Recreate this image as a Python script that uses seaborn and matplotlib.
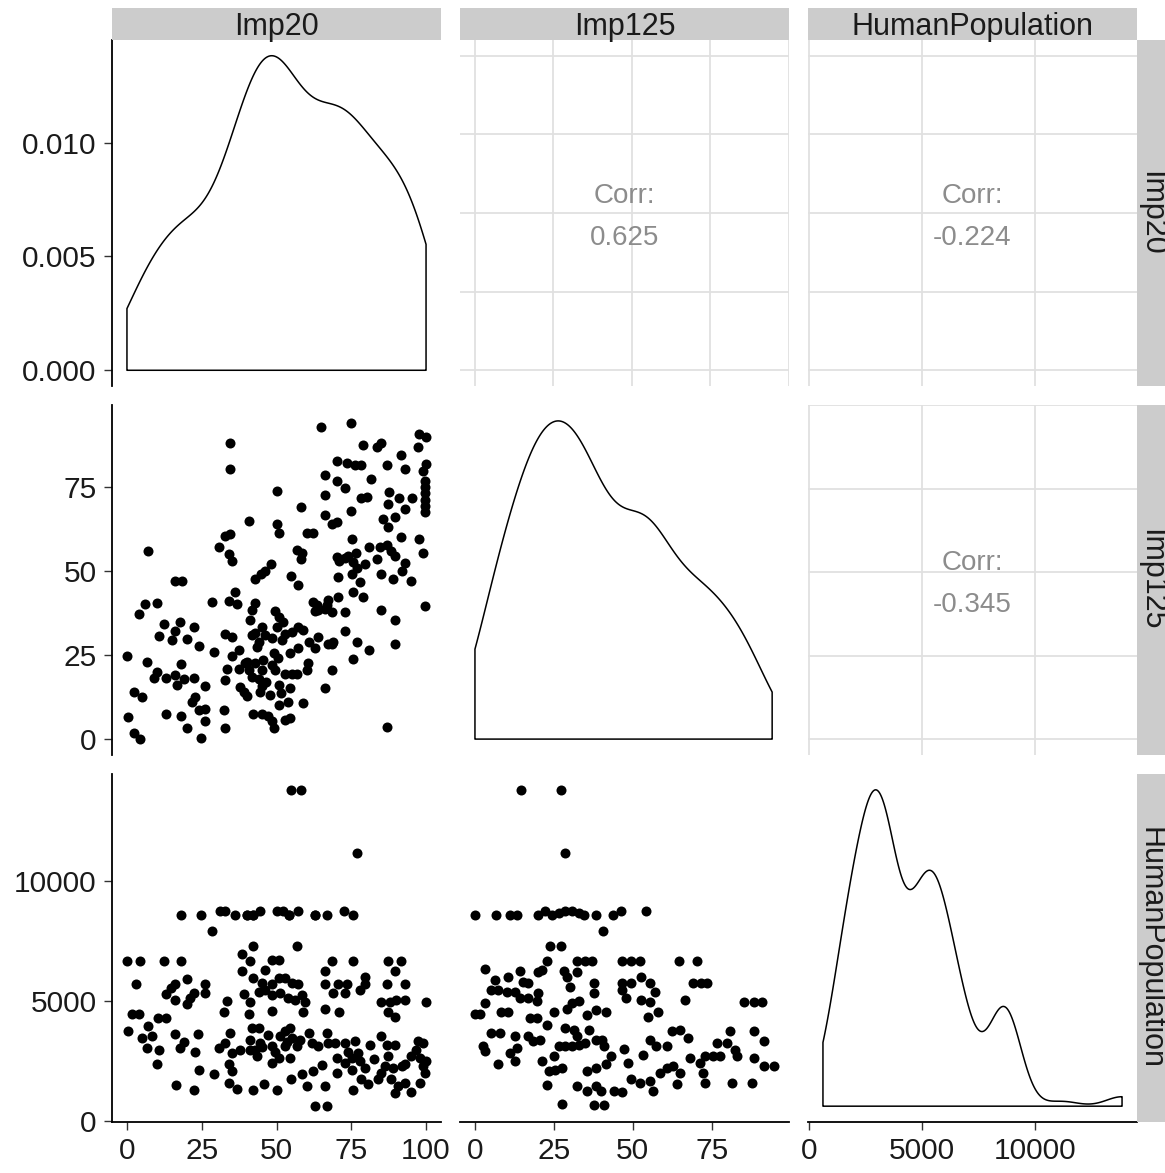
import numpy as np
import matplotlib
matplotlib.use("Agg")
import matplotlib.pyplot as plt
import seaborn as sns

# Imp20 vs Imp125
imp20_a = [7.1, 34.3, 34.3, 64.9, 74.9, 97.6, 100, 97.3, 78.8, 83.5, 85.1, 91.6, 70.1, 73.5, 76.2,
           78.1, 86.8, 92.9, 99.9, 99.0, 66.2, 70.1, 72.9, 81.6, 99.6, 50.3, 66.2, 87.6, 78.4, 80.1,
           91.0, 95.3, 99.6, 99.6, 99.6, 87.3, 92.9, 74.8, 58.2, 66.2, 85.7, 89.6, 87.3, 68.4, 70.1,
           40.9, 50.1, 50.9, 32.9, 34.6, 30.9, 34.2, 35.1, 60.1, 62.3, 75.1, 91.6, 97.6, 99.0, 56.8,
           58.4, 58.2, 80.9, 84.6, 87.1, 88.4, 89.6, 70.1, 72.9, 76.5, 75.7, 79.6, 83.5, 92.9, 91.8,
           48.1, 46.2, 44.9, 42.9, 54.8, 70.7, 75.1, 84.9, 95.1, 16.2, 18.4, 89.0, 57.1, 77.9, 99.6,
           99.6, 36.2, 34.0, 36.8, 42.9, 41.8, 41.2, 28.4, 6.2, 10.1, 4.0, 62.3, 64.0, 67.3, 66.2,
           70.7, 68.4, 72.9, 63.5, 75.7, 79.0, 84.9, 89.6, 99.6, 12.3, 17.9, 22.3, 16.2, 10.7, 14.9,
           20.1, 24.0, 29.0, 32.9, 35.1, 37.3, 35.1, 50.7, 52.3, 50.1, 45.1, 42.9, 46.2, 44.0, 41.8,
           43.4, 40.1, 42.9, 45.1, 48.4, 51.8, 52.9, 55.1, 57.3, 59.0, 49.0, 54.6, 57.3, 60.7, 62.9,
           64.0, 67.3, 68.4, 72.9, 76.8, 80.9, 89.6, 75.7, 0.0, 6.8, 18.2, 10.1, 9.0, 12.9, 16.2,
           16.8, 19.0, 22.3, 26.2, 32.9, 33.4, 37.3, 39.6, 40.7, 41.8, 44.0, 37.9, 40.1, 39.0, 44.6,
           45.1, 47.9, 50.7, 51.6, 54.6, 54.0, 49.6, 52.9, 55.1, 56.8, 60.1, 60.4, 68.4, 66.2, 59.0,
           2.3, 4.9, 22.9, 21.8, 24.0, 26.2, 26.2, 32.3, 32.9, 12.9, 18.2, 20.1, 24.9, 0.3, 2.3,
           4.2, 42.3, 45.1, 47.3, 48.4, 49.0, 52.9, 54.6, 86.8,
           45.5, 48.5, 50.5, 46.5, 49.5, 51.0, 63.0, 67.0, 71.0, 74.0, 77.0, 69.0]
imp125_a = [56.1, 88.0, 80.3, 92.9, 94.1, 90.7, 89.9, 87.0, 87.5, 86.9, 88.2, 84.6, 82.8, 82.3, 81.6,
            81.6, 81.6, 80.3, 81.8, 79.8, 78.6, 76.9, 74.7, 77.3, 76.9, 73.9, 72.6, 73.4, 71.7, 72.0,
            71.7, 71.8, 73.3, 71.3, 69.3, 69.9, 68.5, 68.0, 69.1, 66.8, 65.5, 66.0, 63.0, 64.0, 64.5,
            65.0, 64.0, 61.2, 60.5, 61.0, 57.3, 55.1, 52.9, 61.2, 61.2, 59.7, 60.2, 59.7, 55.4, 56.3,
            55.3, 53.6, 57.3, 57.1, 57.8, 56.1, 54.6, 54.3, 53.9, 55.3, 52.6, 52.1, 53.6, 52.3, 50.1,
            52.1, 50.1, 49.0, 47.7, 48.4, 48.3, 49.0, 49.1, 47.2, 47.2, 47.2, 47.7, 46.0, 46.7, 75.0,
            67.5, 43.7, 41.2, 40.3, 40.6, 38.3, 35.3, 40.7, 40.1, 40.6, 37.1, 40.7, 38.3, 41.3, 38.8,
            42.2, 37.7, 37.7, 39.8, 43.7, 42.4, 38.3, 35.3, 39.5, 34.3, 34.8, 33.5, 32.3, 30.6, 29.4,
            29.9, 27.6, 26.0, 31.2, 30.5, 26.4, 24.7, 36.3, 34.8, 33.5, 33.5, 31.5, 30.9, 28.9, 30.9,
            27.3, 23.0, 22.5, 20.6, 30.2, 29.4, 31.3, 31.8, 33.5, 32.5, 25.5, 25.5, 27.0, 28.9, 27.0,
            30.3, 28.2, 28.2, 32.3, 28.9, 26.4, 28.2, 23.9, 24.6, 23.0, 22.3, 20.0, 18.3, 18.3, 19.0,
            16.1, 18.0, 18.3, 15.7, 17.5, 20.9, 20.9, 22.6, 20.5, 18.5, 18.0, 15.5, 12.7, 14.0, 13.9,
            15.9, 13.0, 16.0, 13.6, 15.1, 11.1, 20.5, 19.5, 19.3, 19.3, 20.7, 22.6, 20.5, 15.1, 10.8,
            14.0, 12.5, 12.5, 11.0, 8.6, 9.1, 5.4, 8.6, 3.2, 7.4, 6.8, 3.2, 0.2, 6.6, 1.9,
            0.0, 7.6, 7.6, 6.8, 5.3, 3.3, 5.8, 6.3, 3.6,
            23.5, 22.0, 24.0, 17.0, 38.0, 10.0, 38.0, 40.0, 53.0, 54.5, 51.0, 29.0]

# Imp20 vs HumanPopulation
imp20_b = [54.9, 58.2, 76.8, 18.2, 24.9, 28.4, 31.2, 32.9, 36.2, 40.1, 42.3, 44.6, 50.1, 52.3, 54.2,
           57.1, 62.9, 66.8, 72.7, 75.7, 42.0, 57.0, 0.0, 4.2, 12.3, 18.2, 38.4, 41.2, 48.4, 50.7,
           46.2, 38.4, 68.4, 75.7, 66.2, 87.3, 91.6, 89.6, 3.1, 20.1, 16.2, 14.6, 12.9, 16.2, 22.3,
           21.2, 20.1, 26.2, 26.2, 42.3, 45.1, 46.2, 48.4, 50.7, 52.9, 55.1, 57.3, 44.0, 48.4, 51.2,
           54.0, 56.2, 58.4, 59.6, 39.0, 41.2, 33.4, 32.3, 40.7, 48.4, 59.0, 66.2, 70.7, 73.5, 79.6,
           79.6, 69.0, 72.9, 77.9, 66.2, 70.9, 86.8, 92.9, 85.1, 87.9, 90.1, 92.9, 87.3, 89.6, 99.9,
           0.3, 1.8, 4.0, 7.1, 4.9, 8.4, 6.8, 10.7, 10.1, 10.4, 12.9, 16.2, 19.0, 17.9, 22.9,
           23.8, 24.0, 16.4, 22.3, 29.0, 30.7, 32.9, 34.6, 35.1, 37.9, 34.0, 35.1, 34.0, 36.8, 41.8,
           44.0, 41.2, 42.9, 44.6, 41.2, 42.3, 45.7, 50.1, 48.4, 51.2, 52.9, 54.6, 55.1, 52.9, 56.8,
           48.4, 50.7, 54.6, 60.7, 61.8, 64.0, 66.8, 67.3, 69.6, 72.9, 54.9, 58.4, 60.1, 62.3, 65.1,
           66.2, 62.9, 66.8, 70.1, 72.9, 75.1, 75.1, 70.1, 77.3, 76.2, 75.7, 79.6, 78.4, 80.7, 84.0,
           81.2, 84.9, 86.8, 87.3, 86.2, 89.0, 91.8, 88.4, 90.7, 89.6, 92.9, 95.1, 89.6, 95.1, 97.9,
           99.0, 99.6, 97.9, 99.0, 97.3, 100,
           45.0, 47.0, 53.5, 58.0, 43.5, 49.5, 78.0, 82.5, 85.0, 93.0, 96.5, 74.0,
           40.1, 42.3, 54.2, 62.9]
pop_b = [13820, 13820, 11170, 8600, 8600, 7920, 8780, 8780, 8600, 8600, 8600, 8780, 8780, 8780, 8600,
         8780, 8600, 8600, 8750, 8600, 7290, 7290, 6680, 6680, 6680, 6680, 6960, 6680, 6700, 6700,
         6290, 6270, 6680, 6680, 6270, 6680, 6680, 6270, 5710, 5910, 5710, 5540, 5300, 5050, 5330,
         5120, 4890, 5710, 5330, 5950, 5770, 5470, 5710, 5950, 5950, 5740, 5710, 5380, 5260, 5330,
         5120, 5050, 5260, 4980, 5300, 4980, 5020, 4570, 4470, 4610, 4570, 5710, 5710, 5710, 5990,
         5710, 5330, 5330, 5470, 4670, 4570, 5710, 5710, 4980, 4980, 5050, 5050, 4570, 4360, 4980,
         3740, 4470, 4470, 3980, 3470, 3530, 3050, 2980, 2360, 4290, 4290, 3630, 3310, 3050, 2870,
         3630, 2150, 1490, 1300, 1950, 3050, 3260, 3670, 2840, 2980, 2360, 2080, 1600, 1320, 3880,
         3880, 3400, 2980, 3260, 2980, 1300, 1530, 1300, 3120, 3530, 3740, 3880, 3470, 3120, 3120,
         2430, 2640, 2640, 3670, 3260, 3120, 3670, 3260, 3260, 3260, 1740, 1950, 1460, 2080, 2320,
         1460, 620, 620, 2640, 2430, 2640, 2150, 2020, 2840, 3330, 1300, 2220, 1740, 1530, 1740,
         3190, 3530, 3190, 2710, 2290, 2220, 2290, 1740, 1460, 1190, 1600, 1210, 3190, 2710, 2640,
         2290, 2020, 1600, 3260, 3330, 2500,
         3100, 3600, 3300, 3400, 2700, 2900, 2500, 2600, 2000, 2400, 2950, 2900,
         8600, 8600, 8600, 8600]

# Imp125 vs HumanPopulation
imp125_c = [14.6, 27.4, 28.6, 0.0, 6.8, 11.1, 13.2, 20.1, 22.3, 24.4, 26.5, 28.6, 30.8, 32.9, 34.5,
            38.2, 43.6, 46.3, 54.2, 40.7, 23.9, 27.1, 3.1, 22.8, 21.2, 20.1, 32.4, 35.0, 37.2, 46.7,
            49.4, 52.1, 64.7, 70.2, 28.1, 32.4, 6.3, 10.5, 14.3, 15.3, 16.9, 5.2, 7.3, 10.0, 12.7,
            14.3, 16.9, 20.1, 19.6, 3.1, 0.0, 1.5, 8.2, 10.5, 17.5, 19.6, 24.9, 29.2, 30.2, 29.2,
            30.8, 32.9, 37.7, 37.7, 35.6, 38.2, 41.4, 46.7, 46.7, 47.8, 49.4, 52.6, 55.3, 56.9, 52.6,
            55.3, 54.7, 57.9, 69.1, 71.7, 73.4, 66.4, 85.1, 88.3, 90.9, 5.2, 7.9, 12.7, 13.2, 11.1,
            12.7, 7.3, 2.6, 3.1, 16.9, 18.5, 20.6, 22.8, 21.2, 24.9, 23.3, 25.4, 27.6, 22.8, 27.6,
            26.5, 28.6, 30.8, 32.9, 28.6, 31.3, 32.4, 35.0, 36.1, 38.2, 40.3, 40.9, 43.0, 41.4, 38.2,
            35.6, 32.4, 35.6, 38.2, 39.8, 44.1, 46.7, 37.7, 40.9, 47.2, 48.3, 49.4, 52.1, 55.3, 56.4,
            58.5, 60.7, 62.8, 65.0, 63.9, 53.1, 55.3, 57.4, 60.7, 62.3, 64.9, 67.5, 68.1, 71.3, 72.9,
            75.5, 77.7, 72.3, 72.9, 80.8, 76.6, 79.8, 82.4, 83.0, 88.3, 91.5, 88.3, 91.5, 94.7, 81.3,
            87.7]
pop_c = [13820, 13820, 11170, 8600, 8600, 8600, 8600, 8600, 8780, 8600, 8700, 8780, 8780, 8700, 8600,
         8600, 8600, 8780, 8780, 7920, 7290, 7290, 6360, 6680, 6290, 6230, 6680, 6680, 6680, 6680,
         6680, 6680, 6680, 6680, 6270, 6230, 5900, 6020, 6270, 5810, 5740, 5470, 5470, 5400, 5400,
         5120, 5120, 5330, 5020, 4910, 4470, 4470, 4570, 4570, 4290, 4290, 4570, 6020, 5600, 4670,
         4940, 5010, 5740, 5330, 4430, 4640, 4570, 5740, 5470, 5120, 5740, 6020, 5740, 5400, 5050,
         4980, 4360, 4570, 5740, 5740, 5740, 5050, 4980, 4980, 4980, 3670, 3670, 3530, 3050, 2840,
         2500, 2400, 3140, 2910, 3530, 3330, 3400, 4020, 2500, 2710, 2080, 2150, 2220, 1490, 700,
         3120, 3120, 3120, 3190, 3880, 3810, 3530, 3260, 3810, 3400, 3400, 3120, 2710, 2360, 2220,
         2080, 1460, 1260, 1460, 1260, 1260, 1210, 660, 660, 3010, 2430, 1740, 1600, 1670, 1260,
         2020, 2220, 2290, 2020, 1530, 2770, 3400, 3120, 3120, 3740, 3810, 3470, 2640, 2430, 2710,
         2710, 2710, 2020, 1600, 3740, 3260, 3260, 2980, 2710, 3740, 3330, 2640, 2290, 2290, 1600,
         1570]

var_names = ["Imp20", "Imp125", "HumanPopulation"]
var_ticks = [[0, 25, 50, 75, 100], [0, 25, 50, 75], [0, 5000, 10000]]
corr_labels = {(0, 1): "0.625", (0, 2): "-0.224", (1, 2): "-0.345"}

W, H = 1165, 1173
sns.set_style("white")
plt.rcParams["font.family"] = ["Liberation Sans", "DejaVu Sans"]

fig = plt.figure(figsize=(W / 100, H / 100), dpi=100)

cols = [(112, 441), (460, 789), (808, 1137)]
rows = [(40, 386), (405, 755), (774, 1122)]


def box(x0, x1, y0, y1):
    return [x0 / W, 1 - y1 / H, (x1 - x0) / W, (y1 - y0) / H]


def padded(v):
    lo, hi = min(v), max(v)
    r = hi - lo
    return lo - 0.05 * r, hi + 0.05 * r


lims = [padded(imp20_a + imp20_b), padded(imp125_a + imp125_c), padded(pop_b + pop_c)]
diag_data = [imp20_a, imp125_a, pop_b]
pairs = {(1, 0): (imp20_a, imp125_a), (2, 0): (imp20_b, pop_b), (2, 1): (imp125_c, pop_c)}

TICK_COL = "#1a1a1a"

for i in range(3):
    for j in range(3):
        ax = fig.add_axes(box(cols[j][0], cols[j][1], rows[i][0], rows[i][1]))
        ax.set_facecolor("white")
        for s in ax.spines.values():
            s.set_visible(False)

        if i == j:
            vals = np.array(diag_data[i], dtype=float)
            sd = vals.std(ddof=1)
            iqr = np.percentile(vals, 75) - np.percentile(vals, 25)
            bw = 0.9 * min(sd, iqr / 1.34) / sd  # R's bw.nrd0
            sns.kdeplot(x=vals, ax=ax, cut=0, bw_adjust=bw, gridsize=512, fill=True,
                        color="black", facecolor="none", edgecolor="black", linewidth=1.1)
            top = ax.collections[-1].get_paths()[0].vertices[:, 1].max()
            ax.set_ylim(-0.05 * top, 1.05 * top)
            ax.set_xlim(lims[j])
            if i == 0:
                ax.set_yticks([0, 0.005, 0.010])
                ax.set_yticklabels(["0.000", "0.005", "0.010"])
        elif i > j:
            xs, ys = pairs[(i, j)]
            sns.scatterplot(x=xs, y=ys, ax=ax, color="black", s=52, linewidth=0)
            ax.set_xlim(lims[j])
            ax.set_ylim(lims[i])
            ax.set_yticks(var_ticks[i])
        else:
            ax.set_xlim(lims[j])
            ax.set_ylim(lims[i])
            ax.set_xticks(var_ticks[j] + ([100] if j == 1 else []))
            ax.set_yticks(var_ticks[i] + ([100] if i == 1 else []))
            ax.grid(True, color="#e0e0e0", linewidth=1.3)
            ax.set_axisbelow(True)
            ph = rows[i][1] - rows[i][0]
            ax.text(0.5, 0.5 + 17 / ph, "Corr:", transform=ax.transAxes, ha="center",
                    va="center", fontsize=20, color="#8c8c8c")
            ax.text(0.5, 0.5 - 25 / ph, corr_labels[(i, j)], transform=ax.transAxes,
                    ha="center", va="center", fontsize=20, color="#8c8c8c")

        ax.set_xlabel("")
        ax.set_ylabel("")
        if i == 2:
            ax.set_xticks(var_ticks[j])
            ax.set_xticklabels([str(t) for t in var_ticks[j]])
            ax.spines["bottom"].set_visible(True)
            ax.spines["bottom"].set_color("black")
            ax.spines["bottom"].set_linewidth(1.3)
            ax.tick_params(axis="x", length=6, width=1.0, color="#333333", pad=5,
                           labelsize=21.5, labelcolor=TICK_COL, bottom=True)
        else:
            ax.tick_params(axis="x", length=0, labelbottom=False)
        if j == 0:
            ax.spines["left"].set_visible(True)
            ax.spines["left"].set_color("black")
            ax.spines["left"].set_linewidth(1.3)
            ax.tick_params(axis="y", length=6, width=1.0, color="#333333", pad=5,
                           labelsize=21.5, labelcolor=TICK_COL, left=True)
        else:
            ax.tick_params(axis="y", length=0, labelleft=False)

# facet strips
for j, name in enumerate(var_names):
    sax = fig.add_axes(box(cols[j][0], cols[j][1], 8, 40))
    sax.set_facecolor("#cccccc")
    sax.set_xticks([])
    sax.set_yticks([])
    for s in sax.spines.values():
        s.set_visible(False)
    sax.text(0.5, 0.42, name, ha="center", va="center", fontsize=22, color="#1a1a1a",
             transform=sax.transAxes)

for i, name in enumerate(var_names):
    sax = fig.add_axes(box(1137, 1165, rows[i][0], rows[i][1]))
    sax.set_facecolor("#cccccc")
    sax.set_xticks([])
    sax.set_yticks([])
    for s in sax.spines.values():
        s.set_visible(False)
    sax.text(0.5, 0.5, name, ha="center", va="center", rotation=270, fontsize=22,
             color="#1a1a1a", transform=sax.transAxes)

fig.savefig("out.png", dpi=100)
